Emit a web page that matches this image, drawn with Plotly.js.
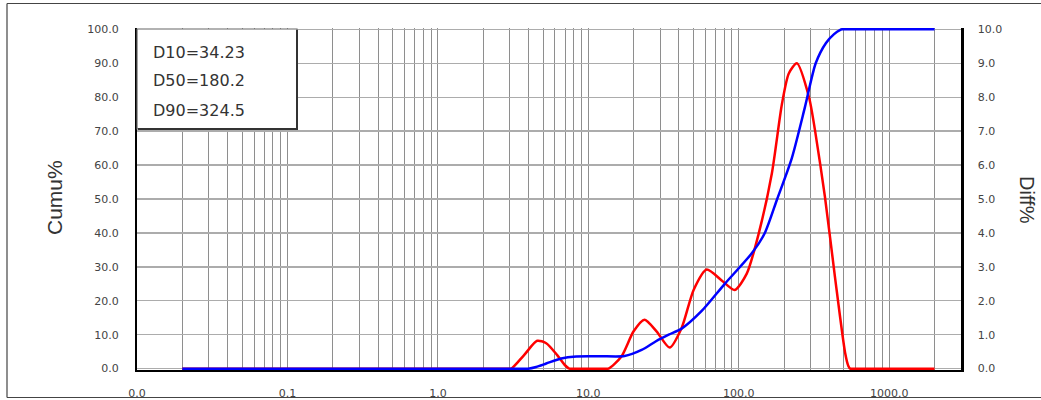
<!DOCTYPE html>
<html>
<head>
<meta charset="utf-8">
<script src="https://cdn.plot.ly/plotly-3.0.1.min.js"></script>
<style>
html,body{margin:0;padding:0;background:#fff;}
#chart{width:1041px;height:400px;}
</style>
</head>
<body>
<div id="chart"></div>
<script>
// ---- data ----
const diffSize = [0.02, 1.0, 2.6, 2.9, 3.07, 3.74, 4.57, 5.25, 6.21, 7.0, 7.47, 8.0, 12.6, 13.6, 16.6, 20.0, 23.6, 28.4, 34.7, 41.7, 50.1, 61.2, 77.0, 94.0, 113, 136, 166, 193.6, 215, 243.5, 293, 321, 374, 436, 509, 535, 550, 580, 800, 2000];
const diffPct  = [0,    0,   0,   0,   0,    0.4,  0.82, 0.75, 0.4,  0.1, 0,    0,   0,    0,    0.36, 1.1,  1.44, 1.1,  0.62, 1.2,  2.32, 2.92, 2.6,  2.32, 2.8, 4.0, 5.76, 7.8, 8.7, 9.0, 8.0, 7.03, 5.06, 2.7, 0.47, 0.08, 0, 0, 0, 0];
const cumuSize = [0.02, 1.0, 3.3, 3.7, 3.98, 4.5, 5.25, 6.6, 8.3, 12.0, 17.4, 22.6, 28.0, 34.2, 41.7, 56.7, 80.7, 122, 149, 180, 225, 275, 324.5, 380, 430, 470, 486, 520, 800, 2000];
const cumuPct  = [0,    0,   0,   0,   0,    0.5, 1.5,  3.0, 3.6, 3.65, 3.7,  5.5,  8.0,  10.0, 11.8, 17.0, 25.0, 34.0, 40.0, 50.0, 62.0, 77.0, 90.0, 96.0, 98.6, 99.8, 100, 100, 100, 100];
const statLabels = ["D10=34.23", "D50=180.2", "D90=324.5"];
const xTickVals = [0.01, 0.1, 1, 10, 100, 1000];
const xTickText = ["0.0", "0.1", "1.0", "10.0", "100.0", "1000.0"];

// minor grid positions (2..9 in every decade)
const minorVals = [];
for (let d = -2; d <= 3; d++) {
  for (let k = 2; k <= 9; k++) {
    const v = k * Math.pow(10, d);
    if (v <= 3000) minorVals.push(v);
  }
}

const L = 137, R = 961, T = 28, B = 370;
const W = R - L, H = B - T;
const px = x => (x - L) / W;
const py = y => (B - y) / H;

const tickFont = {family: 'DejaVu Sans, sans-serif', size: 11, color: '#444'};

// red (Diff%) on the base axis (right side); blue (Cumu%) on the overlaying axis (left side) so it is drawn on top
const traces = [
  {x: diffSize, y: diffPct, type: 'scatter', mode: 'lines', yaxis: 'y',
   line: {color: '#ff0000', width: 2.5, shape: 'spline', smoothing: 0.7}, hoverinfo: 'x+y'},
  {x: cumuSize, y: cumuPct, type: 'scatter', mode: 'lines', yaxis: 'y2',
   line: {color: '#0000ff', width: 2.5, shape: 'spline', smoothing: 0.7}, hoverinfo: 'x+y'}
];

const shapes = [
  // outer frame (left, top, bottom)
  {type: 'line', xref: 'paper', yref: 'paper', x0: px(7), x1: px(7), y0: py(3.5), y1: py(397.5), line: {color: '#444', width: 1.2}},
  {type: 'line', xref: 'paper', yref: 'paper', x0: px(7), x1: px(1045), y0: py(3.5), y1: py(3.5), line: {color: '#444', width: 1.2}},
  {type: 'line', xref: 'paper', yref: 'paper', x0: px(7), x1: px(1045), y0: py(397.5), y1: py(397.5), line: {color: '#444', width: 1.2}},
  // stats box
  {type: 'rect', xref: 'paper', yref: 'paper', layer: 'above', x0: px(137), x1: px(297), y0: py(129), y1: py(29),
   fillcolor: '#ffffff', line: {color: '#666', width: 1.2}},
  {type: 'line', xref: 'paper', yref: 'paper', layer: 'above', x0: px(297), x1: px(297), y0: py(130), y1: py(30), line: {color: '#333', width: 2}},
  {type: 'line', xref: 'paper', yref: 'paper', layer: 'above', x0: px(138), x1: px(298), y0: py(129), y1: py(129), line: {color: '#333', width: 2}}
];

const annotations = statLabels.map((t, i) => ({
  text: t, xref: 'paper', yref: 'paper', x: px(151), y: py(52 + i * 29),
  xanchor: 'left', yanchor: 'middle', showarrow: false,
  font: {family: 'DejaVu Sans, sans-serif', size: 16, color: '#333'}
}));
annotations.push({text: 'Cumu%', xref: 'paper', yref: 'paper', x: px(54), y: py(198), textangle: -90,
  xanchor: 'center', yanchor: 'middle', showarrow: false,
  font: {family: 'Liberation Sans, Arial, sans-serif', size: 21, color: '#333'}});
annotations.push({text: 'Diff%', xref: 'paper', yref: 'paper', x: px(1027), y: py(200), textangle: 90,
  xanchor: 'center', yanchor: 'middle', showarrow: false,
  font: {family: 'Liberation Sans, Arial, sans-serif', size: 20, color: '#333'}});

const layout = {
  width: 1041, height: 400,
  margin: {l: L, r: 1041 - R, t: T, b: 400 - B, pad: 0},
  paper_bgcolor: '#ffffff', plot_bgcolor: '#ffffff',
  showlegend: false,
  xaxis: {
    type: 'log', range: [-2, Math.log10(3000)],
    tickmode: 'array', tickvals: xTickVals, ticktext: xTickText,
    ticks: '', ticklabelstandoff: 12, tickfont: tickFont,
    showgrid: true, gridcolor: '#8e8e8e', gridwidth: 1,
    minor: {tickmode: 'array', tickvals: minorVals, showgrid: true, gridcolor: '#8e8e8e', gridwidth: 1, ticks: ''},
    showline: true, linecolor: '#000', linewidth: 2, zeroline: false, fixedrange: true,
    layer: 'below traces'
  },
  // Diff% axis (right)
  yaxis: {
    side: 'right',
    range: [-0.04, 10.04], tickmode: 'array',
    tickvals: [0,1,2,3,4,5,6,7,8,9,10], tickformat: '.1f',
    ticks: '', ticklabelstandoff: 12, tickfont: tickFont,
    showgrid: true, gridcolor: '#acacac', gridwidth: 1.4,
    showline: true, linecolor: '#000', linewidth: 2.5, zeroline: false, fixedrange: true,
    layer: 'below traces'
  },
  // Cumu% axis (left)
  yaxis2: {
    overlaying: 'y', side: 'left',
    range: [-0.4, 100.4], tickmode: 'array',
    tickvals: [0,10,20,30,40,50,60,70,80,90,100], tickformat: '.1f',
    ticks: '', ticklabelstandoff: 14, tickfont: tickFont,
    showgrid: false,
    showline: true, linecolor: '#000', linewidth: 2, zeroline: false, fixedrange: true,
    layer: 'below traces'
  },
  shapes: shapes,
  annotations: annotations
};

Plotly.newPlot('chart', traces, layout, {displayModeBar: false, staticPlot: true});
</script>
</body>
</html>
